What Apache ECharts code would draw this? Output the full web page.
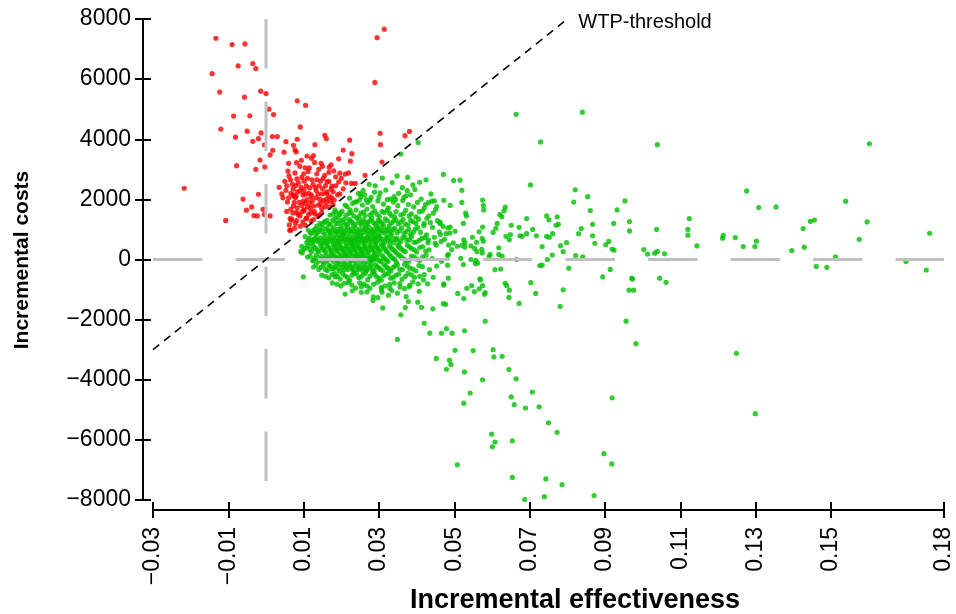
<!DOCTYPE html>
<html>
<head>
<meta charset="utf-8">
<script src="https://cdn.jsdelivr.net/npm/echarts@6/dist/echarts.min.js"></script>
<style>
html,body{margin:0;padding:0;background:#fff;}
#c{width:956px;height:614px;}
</style>
</head>
<body>
<div id="c"></div>
<script>
// ---- data ----
var xTickValues = [-0.03,-0.01,0.01,0.03,0.05,0.07,0.09,0.11,0.13,0.15,0.18];
var xRange = [-0.03, 0.18];
var yRange = [-8000, 8000];
var yInterval = 2000;
var wtpLine = [[-0.03,-3000],[0.08,8000]];
var wtpLabel = 'WTP-threshold';
var xTitle = 'Incremental effectiveness';
var yTitle = 'Incremental costs';

var redPoints = [
[-0.0133,7360],[-0.0090,7150],[-0.0056,7170],[-0.0074,6440],[-0.0035,6520],[-0.0027,6350],[-0.0143,6180],[-0.0123,5570],
[-0.0057,5400],[-0.0014,5600],[0.0000,5520],[0.0083,5280],[0.0105,5130],[0.0008,5000],[0.0020,4820],[-0.0086,4770],
[-0.0043,4780],[-0.0120,4340],[-0.0050,4270],[-0.0013,4210],[0.0091,4410],[-0.0081,4070],[-0.0035,3930],[-0.0020,4020],
[0.0017,4090],[0.0030,4090],[-0.0004,3810],[0.0053,3920],[0.0073,3800],[0.0083,4000],[0.0077,3650],[0.0080,3580],
[0.0018,3630],[0.0048,3570],[0.0011,3480],[0.0109,3440],[-0.0016,3310],[-0.0027,3000],[-0.0003,3080],[-0.0078,3120],
[0.0081,3220],[0.0094,3300],[0.0104,3050],[0.0058,2940],[0.0061,2780],[0.0077,2880],[0.0082,2680],[0.0101,2610],
[-0.0217,2370],[-0.0061,2010],[-0.0020,2170],[0.0053,2300],[0.0042,2180],[0.0072,2150],[0.0066,2200],[0.0078,2060],
[0.0057,1910],[0.0088,1900],[0.0101,2320],[0.0104,1870],[0.0109,1990],[-0.0038,1750],[-0.0052,1640],[-0.0008,1670],
[-0.0004,1500],[-0.0032,1460],[-0.0023,1450],[0.0011,1450],[-0.0107,1300],[0.0066,1680],[0.0081,1570],[0.0096,1590],
[0.0106,1370],[0.0064,1360],[0.0067,1310],[0.0063,970],
[0.0314,7660],[0.0295,7380],[0.0289,5890],[0.0156,4130],[0.0160,4020],[0.0222,3970],[0.0303,4200],[0.0381,4260],
[0.0369,4120],[0.0130,3820],[0.0304,3820],[0.0205,3640],
[0.0126,3460],[0.0228,3520],[0.0121,3370],[0.0129,3230],[0.0146,3200],[0.0168,3070],[0.0173,3150],[0.0224,3270],
[0.0308,3240],[0.0112,2930],[0.0095,2730],[0.0145,2610],[0.0156,2800],[0.0196,2870],[0.0210,2840],[0.0219,2880],
[0.0227,2530],[0.0237,2530],[0.0263,2800],[0.0193,2580],[0.0079,2460],[0.0091,2280],[0.0116,2380],[0.0131,2400],
[0.0162,2580],[0.0138,2180],[0.0149,2180],[0.0162,2250],[0.0173,2340],[0.0175,2440],[0.0196,2180],[0.0073,2110],
[0.0080,2110],[0.0104,2170],[0.0120,2090],[0.0143,2000],[0.0152,1960],[0.0161,2020],[0.0171,1940],[0.0181,1980],
[0.0099,1940],[0.0117,1870],[0.0127,1780],[0.0139,1810],[0.0148,1700],[0.0157,1760],[0.0168,1740],[0.0178,1830],
[0.0073,1780],[0.0083,1720],[0.0101,1630],[0.0119,1560],[0.0130,1510],[0.0142,1480],[0.0138,1440],[0.0148,1560],
[0.0068,1340],[0.0081,1290],[0.0108,1370],[0.0120,1280],[0.0126,1330],[0.0066,980],[0.0076,1040],[0.0091,1110],
[0.0104,1140],
[0.0050,2600],[0.0035,2400],[0.0060,3200],[0.0110,2700],[0.0135,2650],[0.0150,2350],[0.0125,2500],[0.0185,2750],
[0.0140,3000],[0.0090,3100],[0.0070,2500],[0.0160,2200],[0.0120,2150],[0.0100,1650],[0.0085,1500],
[0.0045,2050],[0.0055,2450],[0.0065,2650],[0.0072,2350],[0.0086,2550],[0.0093,2400],[0.0098,2150],[0.0107,2450],
[0.0113,2200],[0.0122,2650],[0.0133,2300],[0.0141,2450],[0.0152,2700],[0.0158,2450],[0.0167,2600],[0.0178,2250],
[0.0185,2450],[0.0190,2150],[0.0200,2700],[0.0205,2350],[0.0212,2550],[0.0095,1800],[0.0110,1750],[0.0123,1950],
[0.0133,2050],[0.0145,1850],[0.0160,1900],[0.0168,2100],[0.0175,2050],[0.0090,1450],[0.0098,1250],[0.0113,1500],
[0.0118,1700],[0.0128,1600],[0.0071,1550],[0.0075,1900],[0.0060,2050],[0.0115,3050],[0.0135,2850],[0.0100,2850],
[0.0150,3100],[0.0180,2950],[0.0193,3350],[0.0167,2900],[0.0083,2250],[0.0062,1150],[0.0078,1200],[0.0055,1600]
];

var greenSpread = [
[0.0404,3890],[0.0358,3510],[0.0471,2830],[0.0498,2630],[0.0376,2730],[0.0408,2570],[0.0309,2710],[0.0274,2500],
[0.0303,2220],[0.0251,2180],[0.0252,2090],[0.0279,2070],[0.0340,2090],[0.0375,2290],[0.0438,2180],[0.0447,1950],
[0.0472,1970],[0.0489,1800],[0.0420,1710],[0.0431,1890],[0.0236,1910],[0.0223,1650],
[0.0099,-580],[0.0184,-580],[0.0127,-20],[0.0096,220],[0.0229,-1040],[0.0253,-1090],[0.0253,-910],[0.0284,-1360],
[0.0310,-1610],[0.0308,-1090],[0.0325,-1190],[0.0334,-1040],[0.0358,-1840],[0.0370,-1600],[0.0378,-1400],[0.0403,-1420],
[0.0413,-1590],[0.0407,-1060],[0.0429,-810],[0.0443,-1640],[0.0472,-850],[0.0471,-1470],[0.0477,-1490],[0.0509,-1130],
[0.0420,-2120],[0.0435,-2450],[0.0466,-2450],[0.0479,-2300],[0.0494,-2450],[0.0349,-2660],[0.0502,-3020],[0.0452,-3290],
[0.0487,-3350],[0.0491,-3490],[0.0479,-3650],
[0.0664,4830],[0.0840,4900],[0.0729,3910],[0.0515,2640],[0.0520,2300],[0.0702,2480],[0.0821,2320],[0.0854,2090],
[0.0817,1910],[0.0953,1950],[0.0520,1900],[0.0575,1980],[0.0577,1800],[0.0578,1650],[0.0635,1740],[0.0632,1620],
[0.0621,1500],[0.0626,1420],[0.0530,1540],[0.0532,1450],[0.0861,1630],[0.0932,1650],[0.0462,1240],[0.0524,1200],
[0.0483,1050],[0.0489,1080],[0.0575,1080],[0.0614,1200],[0.0610,1040],[0.0651,1140],[0.0672,1070],[0.0692,1360],
[0.0745,1450],[0.0773,1420],[0.0776,1170],[0.0751,1320],[0.0770,1140],[0.0708,1000],[0.0761,860],[0.0692,860],
[0.0718,790],[0.0745,770],[0.0752,740],[0.0837,1030],[0.0830,860],[0.0867,1170],[0.0867,790],[0.0923,1200],
[0.0965,1260],[0.0965,950],[0.0873,540],[0.0902,490],[0.0910,600],[0.0919,350],[0.0924,310],[0.0798,560],
[0.0782,460],[0.0789,260],[0.0822,130],[0.0841,90],[0.0804,-290],[0.0894,-580],[0.0914,-330],[0.0971,-620],
[0.0733,430],[0.0680,770],[0.0674,790],[0.0649,830],[0.0637,770],[0.0646,660],[0.0603,900],[0.0574,700],
[0.0577,610],[0.0566,920],[0.0548,740],[0.0559,570],[0.0554,370],[0.0560,260],[0.0544,450],[0.0595,170],
[0.0592,100],[0.0618,390],[0.0618,170],[0.0627,110],[0.0573,340],[0.0574,220],[0.0525,650],[0.0528,550],
[0.0528,410],[0.0508,440],[0.0520,470],[0.0485,480],[0.0474,670],[0.0463,830],[0.0482,130],[0.0517,40],
[0.0524,-170],[0.0544,0],[0.0557,-30],[0.0556,-130],[0.0562,-120],[0.0608,-340],[0.0623,-320],[0.0568,-640],
[0.0482,-190],[0.0665,0],[0.0727,-200],[0.0733,-190],[0.0747,0],[0.0760,150],
[0.0533,-960],[0.0546,-870],[0.0553,-1070],[0.0566,-980],[0.0569,-680],[0.0575,-870],[0.0580,-1160],[0.0582,-1100],
[0.0525,-1300],[0.0635,-790],[0.0639,-870],[0.0646,-1020],[0.0645,-1260],[0.0672,-1460],[0.0703,-770],[0.0716,-1130],
[0.0789,-1010],[0.0781,-1560],[0.0973,-650],[0.0964,-1020],[0.0976,-1020],[0.0956,-2050],[0.0982,-2800],[0.0582,-2050],
[0.0527,-2370],[0.0550,-3030],[0.0603,-3000],[0.0605,-3240],[0.0627,-3220],[0.0527,-3740],[0.0575,-4000],[0.0645,-3660],
[0.0664,-3970],[0.0542,-4440],[0.0525,-4780],[0.0651,-4570],[0.0659,-4830],[0.0707,-4410],[0.0689,-4940],[0.0725,-4900],
[0.0750,-5430],[0.0773,-5750],[0.0599,-5810],[0.0608,-6070],[0.0601,-6230],[0.0654,-6030],[0.0919,-4600],[0.0897,-6460],
[0.0918,-6800],[0.0508,-6830],[0.0654,-7250],[0.0743,-7300],[0.0786,-7490],[0.0871,-7850],[0.0687,-7980],[0.0739,-7890],
[0.1039,3820],[0.1602,3850],[0.1276,2280],[0.1308,1730],[0.1354,1750],[0.1539,1940],[0.1596,1250],[0.1762,870],
[0.1124,1360],[0.1120,1000],[0.1120,810],[0.1144,450],[0.1037,1000],[0.1003,330],[0.1013,180],[0.1032,210],
[0.1039,270],[0.1058,190],[0.1045,-620],[0.1062,-760],[0.1212,710],[0.1214,800],[0.1246,730],[0.1267,430],
[0.1298,430],[0.1302,610],[0.1396,300],[0.1426,1030],[0.1445,1270],[0.1456,1310],[0.1429,410],[0.1512,90],
[0.1461,-230],[0.1489,-260],[0.1575,670],[0.1699,-70],[0.1753,-350],[0.1249,-3120],[0.1299,-5130],
[0.0276,1970],[0.0384,2150],[0.0453,1760],[0.0444,1540],[0.0407,1590],[0.0241,1920],[0.0210,1810],[0.0183,1650],
[0.0196,1540],[0.0170,1480],[0.0143,1200],[0.0157,1260],[0.0135,1110],[0.0112,980],[0.0121,870],[0.0104,760],
[0.0095,440],[0.0092,270],[0.0126,650],[0.0285,-1240],[0.0307,-1010],[0.0329,-960],[0.0356,-920],[0.0382,-850],
[0.0404,-810],[0.0418,-680],[0.0444,-590],[0.0472,-810],[0.0484,-620],[0.0453,-220],[0.0466,-60],[0.0484,170],
[0.0493,330],[0.0497,550],[0.0488,880],[0.0502,940],[0.0462,1200],[0.0460,920],[0.0449,540],[0.0431,650],
[0.0420,1200],[0.0427,1370]
];

var greenCluster = [
[0.0262,2150],[0.0288,2240],[0.0318,2310],[0.0330,2010],[0.0352,2200],[0.0366,2060],[0.0395,2330],[0.0412,2010],
[0.0290,2450],[0.0335,2560],[0.0362,2390],[0.0390,2480],[0.0425,2650],[0.0348,2780],
[0.0215,1760],[0.0230,1870],[0.0248,1980],[0.0256,1810],[0.0270,1900],[0.0283,1760],[0.0297,1950],[0.0312,1840],
[0.0325,1720],[0.0338,1910],[0.0350,1790],[0.0363,1960],[0.0378,1830],[0.0392,1750],[0.0423,1830],[0.0440,1940],
[0.0178,1520],[0.0189,1420],[0.0202,1600],[0.0212,1470],[0.0226,1560],[0.0239,1650],[0.0247,1430],[0.0259,1580],
[0.0268,1680],[0.0276,1480],[0.0289,1620],[0.0301,1430],[0.0314,1560],[0.0322,1650],[0.0333,1460],[0.0345,1590],
[0.0358,1480],[0.0371,1640],[0.0386,1520],[0.0398,1420],[0.0415,1610],[0.0432,1450],[0.0450,1660],
[0.0150,1180],[0.0162,1300],[0.0171,1150],[0.0182,1360],[0.0191,1220],[0.0199,1110],[0.0208,1340],[0.0217,1190],
[0.0225,1280],[0.0233,1130],[0.0241,1380],[0.0250,1210],[0.0258,1320],[0.0265,1140],[0.0273,1260],[0.0281,1380],
[0.0290,1170],[0.0298,1300],[0.0306,1220],[0.0317,1350],[0.0327,1120],[0.0339,1280],[0.0351,1190],[0.0364,1330],
[0.0377,1150],[0.0390,1260],[0.0405,1340],[0.0419,1130],[0.0436,1230],[0.0455,1290],[0.0470,1100],
[0.0118,880],[0.0130,1010],[0.0139,920],[0.0148,1060],[0.0156,840],[0.0164,980],[0.0172,880],[0.0180,1050],
[0.0187,930],[0.0194,820],[0.0201,1010],[0.0209,900],[0.0216,1080],[0.0223,960],[0.0230,850],[0.0238,1030],
[0.0245,920],[0.0252,810],[0.0260,990],[0.0267,880],[0.0274,1060],[0.0282,940],[0.0289,830],[0.0296,1020],
[0.0304,900],[0.0312,1080],[0.0320,960],[0.0329,850],[0.0337,1000],[0.0348,890],[0.0360,1050],[0.0372,930],
[0.0384,840],[0.0396,1010],[0.0410,900],[0.0426,820],[0.0442,1070],[0.0478,860],
[0.0108,560],[0.0116,700],[0.0125,590],[0.0133,760],[0.0141,640],[0.0149,530],[0.0155,710],[0.0162,600],
[0.0169,780],[0.0176,660],[0.0183,540],[0.0189,730],[0.0195,620],[0.0202,790],[0.0208,680],[0.0214,560],
[0.0220,740],[0.0226,630],[0.0232,520],[0.0238,700],[0.0244,590],[0.0250,770],[0.0256,660],[0.0262,550],
[0.0268,720],[0.0274,610],[0.0280,790],[0.0286,680],[0.0292,570],[0.0298,750],[0.0305,640],[0.0312,530],
[0.0319,710],[0.0327,600],[0.0335,780],[0.0344,670],[0.0353,550],[0.0363,730],[0.0374,620],[0.0386,760],
[0.0399,580],[0.0414,700],[0.0430,560],[0.0447,740],[0.0465,600],
[0.0100,330],[0.0112,460],[0.0121,260],[0.0129,400],[0.0137,300],[0.0145,470],[0.0152,350],[0.0159,240],
[0.0166,420],[0.0173,310],[0.0179,490],[0.0185,380],[0.0191,270],[0.0197,450],[0.0203,340],[0.0209,230],
[0.0215,410],[0.0221,300],[0.0227,480],[0.0233,370],[0.0239,260],[0.0245,440],[0.0251,330],[0.0257,220],
[0.0263,400],[0.0269,290],[0.0275,470],[0.0281,360],[0.0287,250],[0.0293,430],[0.0299,320],[0.0306,490],
[0.0313,380],[0.0320,270],[0.0328,450],[0.0336,340],[0.0345,230],[0.0354,410],[0.0364,300],[0.0375,470],
[0.0387,360],[0.0400,250],[0.0416,430],[0.0433,320],[0.0452,480],
[0.0110,80],[0.0124,-40],[0.0134,150],[0.0143,20],[0.0151,-80],[0.0158,120],[0.0165,10],[0.0172,180],
[0.0178,-60],[0.0184,90],[0.0190,-20],[0.0196,160],[0.0202,50],[0.0208,-90],[0.0214,130],[0.0220,20],
[0.0226,190],[0.0232,-50],[0.0238,100],[0.0244,-10],[0.0250,170],[0.0256,60],[0.0262,-80],[0.0268,140],
[0.0274,30],[0.0280,-40],[0.0286,110],[0.0292,0],[0.0298,180],[0.0305,-70],[0.0312,70],[0.0320,-20],
[0.0328,150],[0.0337,40],[0.0346,-90],[0.0356,120],[0.0367,10],[0.0379,-60],[0.0392,90],[0.0408,-30],
[0.0425,140],[0.0441,30],
[0.0126,-250],[0.0140,-330],[0.0153,-180],[0.0163,-370],[0.0171,-220],[0.0180,-300],[0.0188,-140],[0.0195,-390],
[0.0203,-260],[0.0211,-170],[0.0218,-340],[0.0225,-230],[0.0232,-390],[0.0240,-150],[0.0247,-280],[0.0255,-360],
[0.0263,-200],[0.0271,-310],[0.0279,-150],[0.0287,-380],[0.0295,-240],[0.0304,-330],[0.0313,-170],[0.0322,-280],
[0.0332,-380],[0.0343,-210],[0.0355,-320],[0.0368,-160],[0.0382,-290],[0.0398,-380],[0.0415,-240],[0.0434,-340],
[0.0148,-520],[0.0167,-610],[0.0183,-470],[0.0197,-650],[0.0210,-540],[0.0222,-690],[0.0234,-450],[0.0246,-600],
[0.0258,-500],[0.0270,-670],[0.0282,-430],[0.0294,-580],[0.0306,-690],[0.0318,-480],[0.0331,-620],[0.0345,-520],
[0.0361,-660],[0.0377,-460],[0.0394,-590],[0.0420,-500],
[0.0176,-780],[0.0199,-880],[0.0218,-760],[0.0238,-950],[0.0260,-820],[0.0276,-960],[0.0296,-760],[0.0316,-880],
[0.0340,-780],[0.0368,-970],[0.0390,-740],
[0.0210,-1150],[0.0268,-1080],[0.0297,-1270],[0.0349,-1120],[0.0372,-1230]
];

var greenCore = [
[0.0185,1580],[0.0196,1490],[0.0220,1530],[0.0233,1450],[0.0252,1540],[0.0263,1460],[0.0282,1550],[0.0295,1500],
[0.0308,1600],[0.0328,1540],[0.0341,1420],[0.0365,1520],[0.0380,1450],
[0.0155,1250],[0.0166,1180],[0.0177,1290],[0.0186,1200],[0.0196,1310],[0.0204,1240],[0.0212,1160],[0.0221,1330],
[0.0229,1230],[0.0237,1170],[0.0246,1290],[0.0254,1150],[0.0262,1260],[0.0270,1190],[0.0278,1310],[0.0286,1230],
[0.0294,1140],[0.0302,1270],[0.0311,1180],[0.0322,1290],[0.0333,1210],[0.0345,1320],[0.0357,1240],[0.0370,1180],
[0.0384,1300],[0.0398,1200],
[0.0125,950],[0.0134,870],[0.0143,980],[0.0152,910],[0.0160,1040],[0.0168,930],[0.0176,990],[0.0184,870],
[0.0191,1000],[0.0198,930],[0.0205,860],[0.0212,990],[0.0219,880],[0.0227,1010],[0.0234,930],[0.0241,870],
[0.0249,1000],[0.0256,900],[0.0264,1040],[0.0271,950],[0.0278,870],[0.0285,1000],[0.0293,910],[0.0300,1050],
[0.0308,950],[0.0316,870],[0.0324,1010],[0.0333,920],[0.0342,1040],[0.0354,950],[0.0366,880],[0.0379,1000],
[0.0391,910],[0.0403,1060],
[0.0112,650],[0.0120,560],[0.0129,690],[0.0137,590],[0.0145,720],[0.0152,620],[0.0159,540],[0.0165,690],
[0.0172,600],[0.0179,740],[0.0186,640],[0.0192,560],[0.0199,700],[0.0205,600],[0.0211,740],[0.0217,650],
[0.0223,560],[0.0229,700],[0.0235,610],[0.0241,750],[0.0247,660],[0.0253,570],[0.0259,710],[0.0265,620],
[0.0271,760],[0.0277,670],[0.0283,580],[0.0289,720],[0.0295,630],[0.0301,770],[0.0308,680],[0.0315,590],
[0.0323,730],[0.0331,640],[0.0339,560],[0.0348,700],[0.0358,610],[0.0369,750],[0.0381,660],[0.0393,570],
[0.0407,640],[0.0422,730],
[0.0106,380],[0.0117,330],[0.0125,450],[0.0133,360],[0.0141,260],[0.0148,400],[0.0155,300],[0.0162,450],
[0.0169,350],[0.0176,250],[0.0182,420],[0.0188,320],[0.0194,480],[0.0200,380],[0.0206,280],[0.0212,450],
[0.0218,350],[0.0224,250],[0.0230,420],[0.0236,320],[0.0242,480],[0.0248,380],[0.0254,280],[0.0260,450],
[0.0266,350],[0.0272,250],[0.0278,420],[0.0284,320],[0.0290,480],[0.0296,380],[0.0303,280],[0.0310,450],
[0.0317,340],[0.0324,230],[0.0332,400],[0.0341,300],[0.0350,460],[0.0359,360],[0.0370,260],[0.0381,420],
[0.0394,320],[0.0408,400],[0.0424,280],
[0.0117,110],[0.0129,40],[0.0139,-60],[0.0147,100],[0.0155,30],[0.0162,-60],[0.0169,90],[0.0175,20],
[0.0181,150],[0.0187,40],[0.0193,-70],[0.0199,110],[0.0205,10],[0.0211,170],[0.0217,60],[0.0223,-50],
[0.0229,120],[0.0235,20],[0.0241,170],[0.0247,70],[0.0253,-40],[0.0259,130],[0.0265,30],[0.0271,-70],
[0.0277,100],[0.0283,0],[0.0289,160],[0.0295,60],[0.0302,-40],[0.0309,130],[0.0316,20],[0.0324,-70],
[0.0332,100],[0.0341,10],[0.0351,160],[0.0361,60],[0.0373,-40],[0.0386,110],[0.0400,20],[0.0416,90],
[0.0133,-180],[0.0146,-260],[0.0158,-330],[0.0167,-200],[0.0175,-310],[0.0184,-220],[0.0192,-300],[0.0199,-170],
[0.0207,-340],[0.0214,-250],[0.0222,-160],[0.0229,-300],[0.0236,-220],[0.0244,-340],[0.0251,-180],[0.0259,-290],
[0.0267,-370],[0.0275,-230],[0.0283,-300],[0.0291,-170],[0.0300,-280],[0.0309,-370],[0.0318,-220],[0.0327,-320],
[0.0338,-260],[0.0349,-170],[0.0362,-340],[0.0375,-220],[0.0390,-320],[0.0406,-200],
[0.0158,-560],[0.0175,-500],[0.0190,-560],[0.0204,-470],[0.0216,-600],[0.0228,-520],[0.0240,-470],[0.0252,-580],
[0.0264,-450],[0.0276,-560],[0.0288,-490],[0.0300,-620],[0.0312,-540],[0.0325,-470],[0.0338,-590],[0.0353,-480],
[0.0370,-560],[0.0386,-510],[0.0408,-560],
[0.0188,-820],[0.0208,-790],[0.0228,-850],[0.0249,-780],[0.0268,-880],[0.0286,-820],[0.0306,-930],[0.0328,-830],
[0.0355,-800],[0.0380,-900],
[0.0222,2040],[0.0245,2200],[0.0266,1990],[0.0300,2080],[0.0322,1990],[0.0344,2000],[0.0372,2120],[0.0402,1900],
[0.0258,2300]
];

// ---- chart ----
var FONT = '"Liberation Sans", Arial, sans-serif';
var minus = function (s) { return s.replace('-', '\u2212'); };
var chart = echarts.init(document.getElementById('c'), null, {renderer: 'canvas'});

var tickStyle = {color: '#000', width: 2};
var GREEN = '#00c000', RED = '#ff0000', DOT = 5.2;

var option = {
  animation: false,
  backgroundColor: '#fff',
  grid: {left: 153, right: 12, top: 19, bottom: 114, containLabel: false},
  xAxis: [
    {
      type: 'value', splitLine: {show: false},
      min: xRange[0], max: xRange[1], position: 'bottom', offset: 10,
      axisLine: {show: true, onZero: false, lineStyle: {color: '#000', width: 2}},
      axisTick: {show: true, inside: false, length: 8, customValues: xTickValues, lineStyle: tickStyle},
      axisLabel: {show: true, customValues: xTickValues, rotate: 90, margin: 17, fontSize: 23,
        fontFamily: FONT, color: '#000', formatter: function (v) { return minus(v.toFixed(2)); }}
    },
    {
      type: 'value', splitLine: {show: false},
      min: xRange[0], max: xRange[1], position: 'bottom', offset: 10,
      axisLine: {show: false, onZero: false},
      axisTick: {show: true, inside: true, length: 8, customValues: xTickValues, lineStyle: tickStyle},
      axisLabel: {show: false}
    }
  ],
  yAxis: [
    {
      type: 'value', splitLine: {show: false},
      min: yRange[0], max: yRange[1], interval: yInterval, position: 'left', offset: 10,
      axisLine: {show: true, onZero: false, lineStyle: {color: '#000', width: 2}},
      axisTick: {show: true, inside: false, length: 8, lineStyle: tickStyle},
      axisLabel: {show: true, margin: 12, fontSize: 23, fontFamily: FONT, color: '#000',
        formatter: function (v) { return minus(String(v)); }}
    },
    {
      type: 'value', splitLine: {show: false},
      min: yRange[0], max: yRange[1], interval: yInterval, position: 'left', offset: 10,
      axisLine: {show: false, onZero: false},
      axisTick: {show: true, inside: true, length: 8, lineStyle: tickStyle},
      axisLabel: {show: false}
    }
  ],
  series: [
    {type: 'scatter', data: greenCore, symbolSize: DOT, itemStyle: {color: GREEN}, z: 2, silent: true},
    {type: 'scatter', data: greenCluster, symbolSize: DOT, itemStyle: {color: GREEN}, z: 2, silent: true},
    {type: 'scatter', data: greenSpread, symbolSize: DOT, itemStyle: {color: GREEN}, z: 2, silent: true},
    {type: 'scatter', data: redPoints, symbolSize: DOT, itemStyle: {color: RED}, z: 3, silent: true},
    {type: 'line', data: [[0, yRange[1]], [0, yRange[0]]], symbol: 'none', silent: true,
      lineStyle: {color: '#c0c0c0', width: 3, type: [49.5, 33]}, z: 4},
    {type: 'line', data: [[xRange[0], 0], [xRange[1], 0]], symbol: 'none', silent: true,
      lineStyle: {color: '#c0c0c0', width: 3, type: [49.5, 33]}, z: 4},
    {type: 'line', data: wtpLine, symbol: 'none', silent: true,
      lineStyle: {color: '#000', width: 1.6, type: [8, 6]}, z: 5,
      endLabel: {show: true, formatter: wtpLabel, fontSize: 20, fontFamily: FONT, color: '#000',
        distance: 11, offset: [0, 3]}}
  ],
  graphic: [
    {type: 'text', x: 22, y: 260, rotation: Math.PI / 2,
      style: {text: yTitle, x: 0, y: 0, align: 'center', verticalAlign: 'middle',
        font: 'bold 21px ' + FONT, fill: '#000'}},
    {type: 'text', x: 575, y: 601,
      style: {text: xTitle, x: 0, y: 0, align: 'center', verticalAlign: 'middle',
        font: 'bold 27px ' + FONT, fill: '#000'}}
  ]
};
chart.setOption(option);
</script>
</body>
</html>
